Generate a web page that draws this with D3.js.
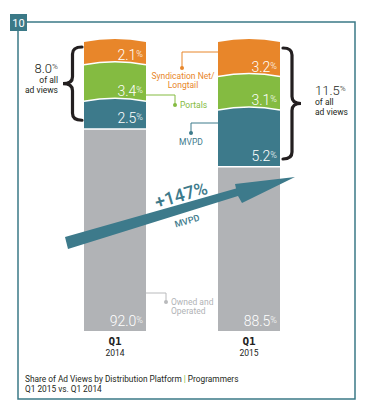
<!DOCTYPE html>
<html>
<head>
<meta charset="utf-8">
<title>Share of Ad Views by Distribution Platform</title>
<script src="https://d3js.org/d3.v7.min.js"></script>
<style>
  body { margin: 0; background: #fff; }
  text { font-family: Roboto, "Open Sans", sans-serif; }
</style>
</head>
<body>
<svg width="370" height="412"></svg>
<script>
// data
var periods = ["Q1 2014", "Q1 2015"];
var quarterLabels = ["Q1", "Q1"];
var yearLabels = ["2014", "2015"];
var owned = [92.0, 88.5];
var mvpd = [2.5, 5.2];
var portals = [3.4, 3.1];
var syndication = [2.1, 3.2];
var otherTotals = [8.0, 11.5];
var mvpdGrowth = "+147%";
var keys = ["owned", "mvpd", "portals", "syndication"];
var seriesNames = {owned: ["Owned and", "Operated"], mvpd: ["MVPD"], portals: ["Portals"], syndication: ["Syndication Net/", "Longtail"]};
var colors = {owned: "#b1b3b6", mvpd: "#3d7a8b", portals: "#84bb41", syndication: "#e8862a"};
var frameColor = "#3b7987";

var table = periods.map(function(p, i) {
  return {period: p, owned: owned[i], mvpd: mvpd[i], portals: portals[i], syndication: syndication[i]};
});

var svg = d3.select("svg");

// frame + badge
svg.append("path")
  .attr("d", "M27,22H355V399H18V31")
  .attr("fill", "none").attr("stroke", frameColor).attr("stroke-width", 1.5);
svg.append("rect").attr("x", 10).attr("y", 14).attr("width", 17).attr("height", 17).attr("fill", frameColor);
svg.append("text").text("10").attr("x", 18.5).attr("y", 26.5).attr("text-anchor", "middle")
  .attr("fill", "#fff").style("font-size", "11px");

// scales: the small shares are blown up above the break
var x = d3.scaleBand().domain(periods).range([17, 347]).paddingInner(72 / 134).paddingOuter(0.5);
var y = d3.scaleLinear().domain([0, 88.5, 100]).range([331, 166, 42]);
var bw = x.bandwidth();

var stack = d3.stack().keys(keys)(table);

var g = svg.append("g");
var bulge = 3;

// draw top segments first so lower ones sit over their bottoms
stack.slice().reverse().forEach(function(layer) {
  var key = layer.key;
  layer.forEach(function(d, i) {
    var x0 = x(periods[i]), x1 = x0 + bw, xc = x0 + bw / 2;
    var yTop = y(d[1]), yBot = y(d[0]);
    if (key === "owned") {
      g.append("rect").attr("x", x0).attr("y", yTop + 1.5).attr("width", bw).attr("height", yBot - yTop - 1.5)
        .attr("fill", colors[key]);
    } else {
      var bottom = key === "mvpd" ? yBot : yBot + 5;
      g.append("path")
        .attr("d", "M" + x0 + "," + yTop + "Q" + xc + "," + (yTop - 2 * bulge) + " " + x1 + "," + yTop +
          "V" + bottom + "H" + x0 + "Z")
        .attr("fill", colors[key]);
      if (key !== "syndication") {
        g.append("path")
          .attr("d", "M" + x0 + "," + yTop + "Q" + xc + "," + (yTop - 2 * bulge) + " " + x1 + "," + yTop)
          .attr("fill", "none").attr("stroke", "#fff").attr("stroke-width", 1.5);
      }
    }
    var t = g.append("text")
      .attr("x", x1 - 3).attr("y", yBot - 5)
      .attr("text-anchor", "end").attr("fill", "#fff")
      .style("font-size", "14px").style("font-weight", 300);
    t.append("tspan").text((d[1] - d[0]).toFixed(1));
    t.append("tspan").text("%").style("font-size", "9px").attr("dy", -3);
  });
});

// category labels
periods.forEach(function(p, i) {
  var cx = x(p) + bw / 2;
  svg.append("text").text(quarterLabels[i]).attr("x", cx).attr("y", 345).attr("text-anchor", "middle")
    .style("font-family", "'DejaVu Sans Mono', monospace").style("font-weight", "bold").style("font-size", "11px")
    .attr("fill", "#222");
  svg.append("text").text(yearLabels[i]).attr("x", cx).attr("y", 356).attr("text-anchor", "middle")
    .style("font-size", "8.5px").attr("fill", "#222");
});

// braces
function brace(xEnd, xTip, y0, y1) {
  var ym = (y0 + y1) / 2, xs = (xEnd + xTip) / 2, r = 7;
  return "M" + xEnd + "," + y0 + "Q" + xs + "," + y0 + " " + xs + "," + (y0 + r) +
    "L" + xs + "," + (ym - r) + "Q" + xs + "," + ym + " " + xTip + "," + ym +
    "Q" + xs + "," + ym + " " + xs + "," + (ym + r) +
    "L" + xs + "," + (y1 - r) + "Q" + xs + "," + y1 + " " + xEnd + "," + y1;
}
var b1 = x(periods[0]), b2 = x(periods[1]) + bw;
svg.append("path").attr("d", brace(b1 - 2, b1 - 21, y(100) + 5, y(owned[0]) - 8))
  .attr("fill", "none").attr("stroke", "#231f20").attr("stroke-width", 3.2).attr("stroke-linecap", "round");
svg.append("path").attr("d", brace(b2 + 3, b2 + 21, y(100) + 6, y(owned[1]) - 7))
  .attr("fill", "none").attr("stroke", "#231f20").attr("stroke-width", 3.2).attr("stroke-linecap", "round");

function totalLabel(xp, anchor, yp, v) {
  var t = svg.append("text").attr("x", xp).attr("y", yp).attr("text-anchor", anchor).attr("fill", "#231f20")
    .style("font-size", "13px").style("font-weight", 300);
  t.append("tspan").text(v.toFixed(1));
  t.append("tspan").text("%").style("font-size", "8px").attr("dy", -4);
  svg.append("text").text("of all").attr("x", xp).attr("y", yp + 10).attr("text-anchor", anchor)
    .style("font-size", "8.5px").attr("fill", "#231f20");
  svg.append("text").text("ad views").attr("x", xp).attr("y", yp + 20).attr("text-anchor", anchor)
    .style("font-size", "8.5px").attr("fill", "#231f20");
}
totalLabel(58, "end", 73, otherTotals[0]);
totalLabel(315, "start", 95, otherTotals[1]);

// callouts
var left2 = x(periods[1]), right1 = x(periods[0]) + bw;
function callout(pts, dot, color) {
  svg.append("path").attr("d", d3.line()(pts)).attr("fill", "none").attr("stroke", color).attr("stroke-width", 1);
  svg.append("circle").attr("cx", dot[0]).attr("cy", dot[1]).attr("r", 2).attr("fill", color);
}
function calloutText(lines, xp, yp, anchor, color) {
  lines.forEach(function(s, i) {
    svg.append("text").text(s).attr("x", xp).attr("y", yp + i * 9).attr("text-anchor", anchor)
      .attr("fill", color).style("font-size", "8.5px");
  });
}
callout([[left2, 52], [182, 52], [182, 68]], [182, 68], colors.syndication);
calloutText(seriesNames.syndication, 183, 79, "middle", colors.syndication);
callout([[right1, 95], [175, 95], [175, 105]], [175, 105], colors.portals);
calloutText(seriesNames.portals, 180, 108, "start", colors.portals);
callout([[left2, 123], [191, 123], [191, 133]], [191, 133], colors.mvpd);
calloutText(seriesNames.mvpd, 191, 145, "middle", colors.mvpd);
callout([[right1, 293], [166, 293], [166, 302]], [166, 302], "#b9babc");
calloutText(seriesNames.owned, 171, 305, "start", "#b1b3b6");

// growth arrow
var ax = x(periods[0]) - 19;
var arrow = [[0, 0], [171, -48.5], [170, -53], [230, -60], [177, -34], [173, -41], [3, 12]]
  .map(function(p) { return [ax + p[0], 237 + p[1]]; });
svg.append("path").attr("d", d3.line()(arrow) + "Z").attr("fill", colors.mvpd);
var ang = -16.5;
svg.append("text").text(mvpdGrowth).attr("transform", "translate(181,195) rotate(" + ang + ")")
  .attr("text-anchor", "middle").attr("dy", "0.35em").attr("fill", colors.mvpd)
  .style("font-size", "18px").style("font-weight", 500);
svg.append("text").text("MVPD").attr("transform", "translate(187,221) rotate(" + ang + ")")
  .attr("text-anchor", "middle").attr("dy", "0.35em").attr("fill", colors.mvpd)
  .style("font-size", "9px").style("font-weight", 500);

// footer
var f = svg.append("text").attr("x", 25).attr("y", 382).attr("fill", "#231f20").style("font-size", "8.3px");
f.append("tspan").text("Share of Ad Views by Distribution Platform ");
f.append("tspan").text("|").attr("fill", colors.portals);
f.append("tspan").text(" Programmers");
svg.append("text").text("Q1 2015 vs. Q1 2014").attr("x", 25).attr("y", 392).attr("fill", "#231f20")
  .style("font-size", "8.3px");
</script>
</body>
</html>
